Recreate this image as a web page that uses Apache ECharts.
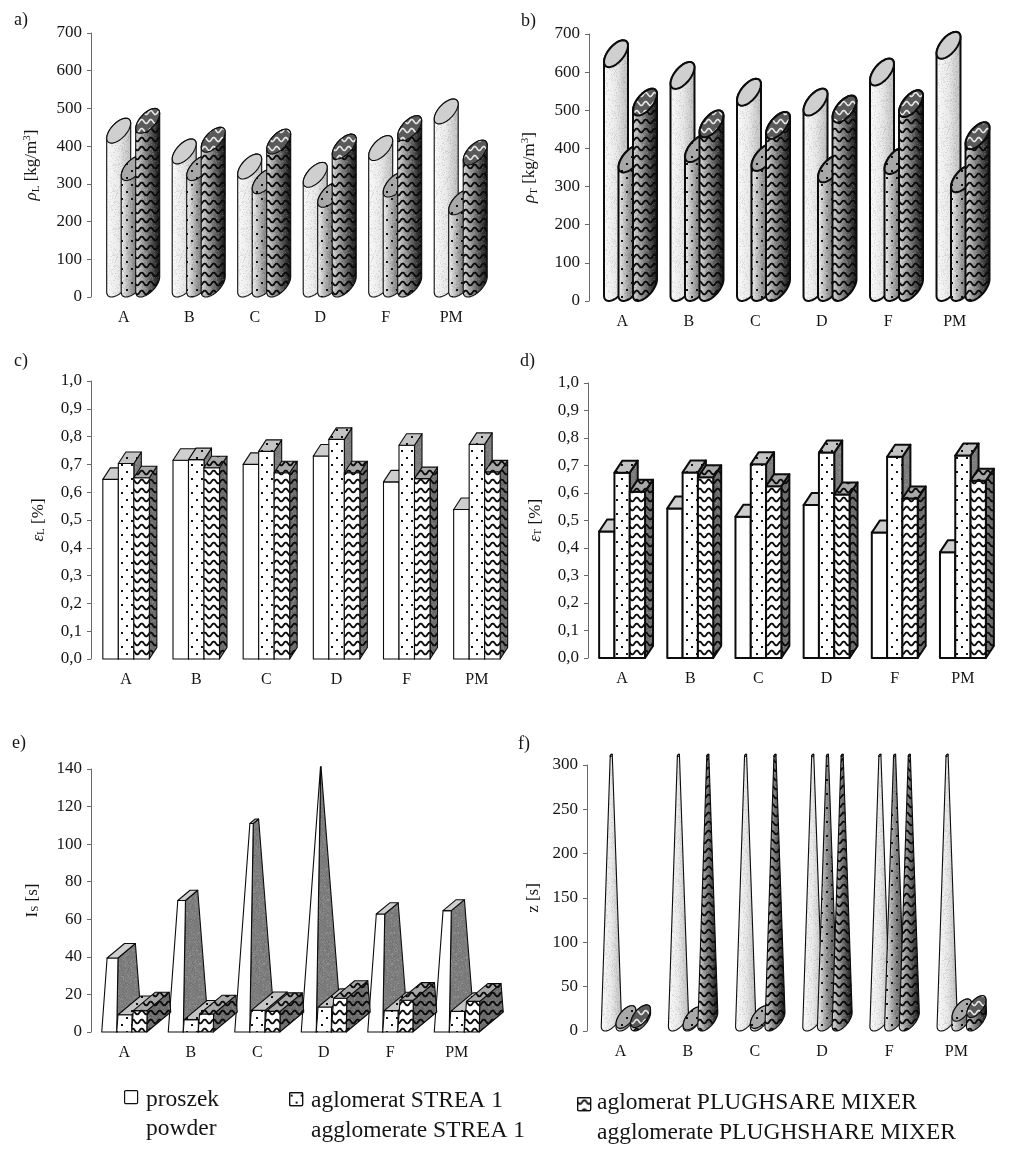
<!DOCTYPE html>
<html><head><meta charset="utf-8">
<style>html,body{margin:0;padding:0;background:#fff}#c{width:1024px;height:1157px}</style>
<script src="https://cdn.jsdelivr.net/npm/echarts@6/dist/echarts.min.js"></script>
</head><body><div id="c"></div>
<script>
const categories = ['A','B','C','D','F','PM'];
// a) bulk density rho_L
const aPowder = [421,366,326,304,375,472];
const aStrea  = [322,322,287,251,278,231];
const aPlough = [447,397,392,379,428,363];
// b) tapped density rho_T
const bPowder = [627,570,526,500,579,649];
const bStrea  = [351,378,355,325,347,299];
const bPlough = [500,443,439,482,496,412];
// c) porosity eps_L
const cPowder = [0.646,0.715,0.700,0.730,0.637,0.538];
const cStrea  = [0.703,0.717,0.747,0.790,0.769,0.772];
const cPlough = [0.652,0.688,0.670,0.670,0.649,0.673];
// d) porosity eps_T
const dPowder = [0.460,0.544,0.514,0.556,0.456,0.385];
const dStrea  = [0.674,0.675,0.705,0.747,0.732,0.736];
const dPlough = [0.605,0.657,0.625,0.595,0.580,0.645];
// e) Is [s]
const ePowder = [39.4,70,111,141,62.8,64.6];
const eStrea  = [9.2,6.6,11.5,13.3,11.4,11];
const ePlough = [11.4,9.6,11,18,16.9,16.3];
// f) z [s] (the tall cones run past the top tick)
const fPowder = [310,310,310,310,310,310];
const fStrea  = [8,6.4,8,310,310,16];
const fPlough = [9,310,310,310,310,20];

const SERIF = '"Liberation Serif","Times New Roman",serif';
const INK = '#141414';

function tile(w,h,draw){const c=document.createElement('canvas');c.width=w;c.height=h;draw(c.getContext('2d'));return c;}
function dotsTile(color){return tile(10,14,g=>{g.fillStyle=color;g.fillRect(1,2,2,2);g.fillRect(6,9,2,2);});}
function waveTile(color,bw){return tile(9,9,g=>{g.strokeStyle=color;g.lineWidth=bw;
  g.beginPath();for(let x=-1;x<=10;x+=0.5){const y=4.5+2*Math.sin(x/9*2*Math.PI);x===-1?g.moveTo(x,y):g.lineTo(x,y);}g.stroke();});}
function grainTile(){return tile(64,64,g=>{let s=7;for(let y=0;y<64;y++)for(let x=0;x<64;x++){s=(s*75+74)%65537;
  if(s%6===0){g.fillStyle='rgba(0,0,0,.09)';g.fillRect(x,y,1,1);}else if(s%7===0){g.fillStyle='rgba(255,255,255,.14)';g.fillRect(x,y,1,1);}}});}
const pat = t => ({image:t,repeat:'repeat'});
const DOTS = pat(dotsTile('#111'));
const WAVE = pat(waveTile('#0a0a0a',1.8));
const WAVEL = pat(waveTile('#e8e8e8',1.6));
const GRAIN = pat(grainTile());
const lin = stops => ({type:'linear',x:0,y:0,x2:1,y2:0,colorStops:stops.map((c,i)=>({offset:i/(stops.length-1),color:c}))});
const ROUND = [
  lin(['#fafafa','#e8e8e8','#bdbdbd']),
  lin(['#f2f2f2','#8e8e8e','#444444']),
  lin(['#dcdcdc','#777777','#111111'])
];
const PATTERNS = [null,DOTS,WAVE];

function poly(points,fill,lw,stroke){
  return {type:'polygon',silent:true,shape:{points},style:{fill:fill||'none',stroke:stroke||'none',lineWidth:lw||0,lineJoin:'round'}};
}
function layered(points,base,pattern,lw,grain){
  const out=[poly(points,base)];
  if(grain) out.push(poly(points,GRAIN));
  if(pattern) out.push(poly(points,pattern));
  out.push(poly(points,'none',lw,'#0c0c0c'));
  return out;
}
function ellipsePt(cx,cy,W,H,t){
  const phi=53*Math.PI/180;
  return [cx+W/2*Math.cos(t), cy-H/2*Math.cos(t-phi)];
}
function arc(cx,cy,W,H,a,b){const p=[];for(let k=0;k<=24;k++){p.push(ellipsePt(cx,cy,W,H,a+(b-a)*k/24));}return p;}

// cylinder (peak null) or cone (peak set): silhouette + top ellipse
function roundMark(m,g,x0,y0,yv,api){
  const W=g.W,H=g.H,lift=0.2*H;
  const cxB=x0+W/2, cyB=y0-H/2;           // base lowest point sits on the zero line
  const yl=y0-lift;                       // base left extreme
  let cxT=cxB,cyT,scale=1;
  if(g.peak){
    const yApex=api.coord([0,g.peak])[1];
    const t=Math.max(0,(yl-yv)/(yl-yApex));
    scale=1-t; cyT=cyB+(yApex-cyB)*t;
  }else{
    cyT=yv-H*0.5+lift;                    // top left extreme sits at the value
  }
  const base=arc(cxB,cyB,W,H,Math.PI,2*Math.PI);
  const topBack=arc(cxT,cyT,W*scale,H*scale,0,Math.PI);
  const body=base.concat(topBack);
  const top=arc(cxT,cyT,W*scale,H*scale,0,2*Math.PI);
  const topFill=['#cfcfcf','#a8a8a8','#5a5a5a'][m];
  const topPat=[null,DOTS,WAVEL][m];
  return layered(body,ROUND[m],PATTERNS[m],g.lw,true).concat(layered(top,topFill,topPat,g.lw,false));
}
// box (peak null) or truncated pyramid (peak set)
function squareMark(m,g,x0,y0,yv,api){
  const w=g.w,dx=g.dx,dy=g.dy;
  const FL=[x0,y0],FR=[x0+w,y0],BR=[x0+w+dx,y0-dy],BL=[x0+dx,y0-dy];
  let lift;
  if(g.peak){
    const yApex=api.coord([0,g.peak])[1];
    const t=Math.max(0,(y0-yv)/(y0-yApex));
    const A=[x0+(w+dx)/2,yApex];
    lift=p=>[p[0]+(A[0]-p[0])*t, p[1]+(A[1]-p[1])*t];
  }else{
    lift=p=>[p[0],p[1]-(y0-yv)];
  }
  const fl=lift(FL),fr=lift(FR),br=lift(BR),bl=lift(BL);
  const sideBase=['#7d7d7d','#7d7d7d','#6e6e6e'][m];
  const topBase=['#cfcfcf','#c4c4c4','#a8a8a8'][m];
  return [].concat(
    layered([FR,BR,br,fr],sideBase,m===2?WAVE:null,g.lw,true),
    layered([FL,FR,fr,fl],'#ffffff',PATTERNS[m],g.lw,false),
    layered([fl,fr,br,bl],topBase,m===2?WAVE:(m===1?DOTS:null),g.lw,false)
  );
}

const panels = [
 {key:'a)',lx:14,ly:11,series:[aPowder,aStrea,aPlough],grid:{left:91,top:33,width:393,height:264},max:700,interval:100,
  name:'{i|ρ}{sub|L} [kg/m{sup|3}]',gap:49,kind:'round',g:{w:14.5,shift:4.7,W:24,H:25,lw:1.1}},
 {key:'b)',lx:521,ly:12,series:[bPowder,bStrea,bPlough],grid:{left:589,top:34,width:399,height:267},max:700,interval:100,
  name:'{i|ρ}{sub|T} [kg/m{sup|3}]',gap:49,kind:'round',g:{w:14.5,shift:3.5,W:24,H:27,lw:2}},
 {key:'c)',lx:14,ly:352,series:[cPowder,cStrea,cPlough],grid:{left:91,top:381,width:421,height:278},max:1,interval:0.1,
  name:'{i|ε}{sub|L} [%]',gap:44,kind:'square',g:{w:15.5,shift:0,dx:7.5,dy:11.5,lw:1.1}},
 {key:'d)',lx:520,ly:352,series:[dPowder,dStrea,dPlough],grid:{left:588,top:383,width:409,height:275},max:1,interval:0.1,
  name:'{i|ε}{sub|T} [%]',gap:44,kind:'square',g:{w:15.3,shift:0,dx:8,dy:12,lw:2}},
 {key:'e)',lx:12,ly:734,series:[ePowder,eStrea,ePlough],grid:{left:91,top:769,width:399,height:263},max:140,interval:20,
  name:'I{sub|S} [s]',gap:50,kind:'square',g:{w:15,shift:0,dx:24,dy:20,lw:1.1,peak:143}},
 {key:'f)',lx:518,ly:735,series:[fPowder,fStrea,fPlough],grid:{left:587,top:765,width:403,height:266},max:300,interval:50,
  name:'z [s]',gap:45,kind:'round',g:{w:14.7,shift:2.7,W:20,H:23,lw:1.1,peak:345}}
];

const nameRich={
  i:{fontFamily:SERIF,fontSize:17,fontStyle:'italic',color:INK},
  sub:{fontFamily:SERIF,fontSize:11,color:INK,verticalAlign:'bottom',lineHeight:16},
  sup:{fontFamily:SERIF,fontSize:11,color:INK,verticalAlign:'top',lineHeight:20}
};
const grids=[],xAxes=[],yAxes=[],series=[],titles=[];
panels.forEach((p,pi)=>{
  grids.push(p.grid);
  titles.push({text:p.key,left:p.lx,top:p.ly,padding:0,textStyle:{fontFamily:SERIF,fontSize:18,fontWeight:'normal',color:INK}});
  xAxes.push({type:'category',gridIndex:pi,data:categories,boundaryGap:true,
    axisLine:{show:false},axisTick:{show:false},splitLine:{show:false},
    axisLabel:{margin:13,fontFamily:SERIF,fontSize:16,color:INK}});
  yAxes.push({type:'value',gridIndex:pi,min:0,max:p.max,interval:p.interval,
    name:p.name,nameLocation:'middle',nameRotate:90,nameGap:p.gap,
    nameTextStyle:{fontFamily:SERIF,fontSize:17,color:INK,rich:nameRich},
    axisLine:{show:true,lineStyle:{color:'#6a6a6a',width:1}},
    axisTick:{show:true,length:4,lineStyle:{color:'#6a6a6a',width:1}},splitLine:{show:false},
    axisLabel:{margin:9,fontFamily:SERIF,fontSize:17,color:INK,
      formatter:p.max===1?(v=>v.toFixed(1).replace('.',',')):(v=>String(v))}});
  p.series.forEach((vals,m)=>{
    series.push({type:'custom',xAxisIndex:pi,yAxisIndex:pi,clip:false,animation:false,silent:true,
      encode:{x:0,y:1},data:vals.map((v,i)=>[i,v]),
      renderItem:(params,api)=>{
        const i=api.value(0),v=api.value(1);
        const c=api.coord([i,0]);const yv=api.coord([i,v])[1];
        const x0=c[0]+p.g.shift+(m-1.5)*p.g.w;
        const kids=p.kind==='round'?roundMark(m,p.g,x0,c[1],yv,api):squareMark(m,p.g,x0,c[1],yv,api);
        return {type:'group',children:kids};
      }});
  });
});

const legendText=(x,y,text)=>({type:'text',left:x,top:y,style:{text,fontFamily:SERIF,fontSize:23.5,fill:INK}});
const legendBox=(x,y,pattern)=>({type:'group',left:x,top:y,children:[
  {type:'rect',shape:{x:0,y:0,width:13,height:13,r:1},style:{fill:'#fff',stroke:'#111',lineWidth:1.2}},
  ...(pattern?[{type:'rect',shape:{x:0,y:0,width:13,height:13,r:1},style:{fill:pattern,stroke:'#111',lineWidth:1.2}}]:[])
]});
const graphic=[
  legendBox(124,1090,null),
  legendText(146,1088,'proszek'),legendText(146,1117,'powder'),
  legendBox(289,1092,DOTS),
  legendText(311,1089,'aglomerat STREA 1'),legendText(311,1119,'agglomerate STREA 1'),
  legendBox(577,1097,WAVE),
  legendText(597,1091,'aglomerat PLUGHSARE MIXER'),legendText(597,1121,'agglomerate PLUGHSHARE MIXER')
];

const chart=echarts.init(document.getElementById('c'),null,{renderer:'canvas',width:1024,height:1157});
chart.setOption({animation:false,backgroundColor:'#ffffff',title:titles,grid:grids,xAxis:xAxes,yAxis:yAxes,series,graphic});
</script></body></html>
